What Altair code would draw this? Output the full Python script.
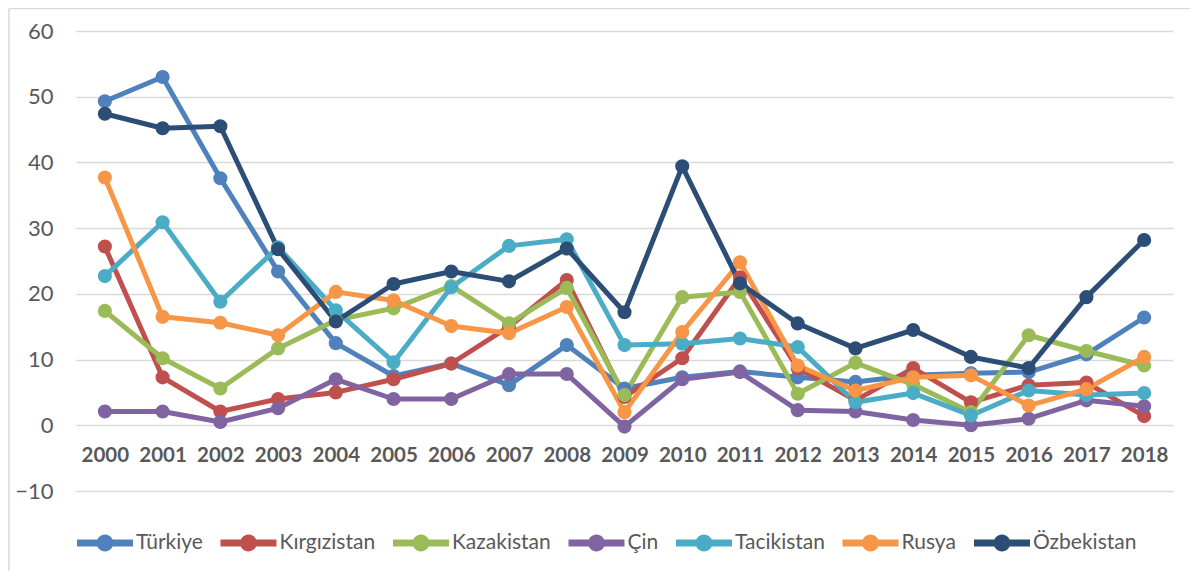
import altair as alt
import pandas as pd

years = [str(y) for y in range(2000, 2019)]
series_names = ["Türkiye", "Kırgızistan", "Kazakistan", "Çin", "Tacikistan", "Rusya", "Özbekistan"]
colors = ["#4F81BD", "#C0504D", "#9BBB59", "#8064A2", "#4BACC6", "#F79646", "#2C4D75"]

turkiye = [49.3, 53.0, 37.6, 23.4, 12.5, 7.5, 9.4, 6.1, 12.2, 5.6, 7.3, 8.2, 7.3, 6.6, 7.6, 7.9, 8.1, 10.8, 16.4]
kirgizistan = [27.2, 7.3, 2.1, 4.0, 5.0, 7.0, 9.4, 15.0, 22.1, 4.3, 10.2, 22.5, 8.7, 3.8, 8.7, 3.5, 6.1, 6.5, 1.4]
kazakistan = [17.4, 10.2, 5.6, 11.7, 16.0, 17.8, 21.2, 15.5, 20.9, 4.6, 19.5, 20.3, 4.8, 9.5, 6.2, 2.0, 13.7, 11.3, 9.1]
cin = [2.1, 2.1, 0.5, 2.6, 7.0, 4.0, 4.0, 7.8, 7.8, -0.2, 7.0, 8.1, 2.3, 2.1, 0.8, 0.0, 1.0, 3.8, 2.9]
tacikistan = [22.7, 30.9, 18.8, 27.1, 17.5, 9.6, 21.0, 27.3, 28.3, 12.2, 12.4, 13.2, 11.9, 3.5, 4.9, 1.5, 5.3, 4.6, 4.9]
rusya = [37.7, 16.5, 15.6, 13.7, 20.3, 19.0, 15.1, 14.0, 18.0, 2.0, 14.2, 24.8, 9.1, 5.3, 7.3, 7.6, 3.0, 5.5, 10.4]
ozbekistan = [47.4, 45.2, 45.5, 26.8, 15.8, 21.5, 23.4, 21.9, 26.9, 17.2, 39.4, 21.6, 15.5, 11.7, 14.5, 10.4, 8.7, 19.5, 28.2]

y_ticks = [-10, 0, 10, 20, 30, 40, 50, 60]

all_values = [turkiye, kirgizistan, kazakistan, cin, tacikistan, rusya, ozbekistan]
rows = []
for i, (name, vals) in enumerate(zip(series_names, all_values)):
    for y, v in zip(years, vals):
        rows.append({"Yıl": y, "Ülke": name, "Değer": v, "sira": i})
df = pd.DataFrame(rows)

W, H = 1097, 460
FONT = "Lato"
GRAY = "#595959"

legend_symbol = ("M-1,-0.125 L1,-0.125 L1,0.125 L-1,0.125 Z "
                 "M-0.3,0 A0.3,0.3 0 1,1 0.3,0 A0.3,0.3 0 1,1 -0.3,0 Z")

x_enc = alt.X("Yıl:O", sort=years,
              scale=alt.Scale(type="point", padding=0.5),
              axis=alt.Axis(title=None, domain=False, ticks=False, grid=False,
                            labelAngle=0, labelFont=FONT, labelFontSize=20.5,
                            labelFontWeight="bold", labelColor=GRAY,
                            labelPadding=20, offset=-66))
y_enc = alt.Y("Değer:Q",
              scale=alt.Scale(domain=[-10, 60], nice=False, zero=False),
              axis=alt.Axis(title=None, values=y_ticks, domain=False, ticks=False,
                            grid=True, gridColor="#D9D9D9", gridWidth=1.5,
                            labelFont=FONT, labelFontSize=22, labelColor=GRAY,
                            labelPadding=23))
color_scale = alt.Scale(domain=series_names, range=colors)
color_line = alt.Color("Ülke:N", sort=series_names, scale=color_scale, legend=None)
color_point = alt.Color("Ülke:N", sort=series_names, scale=color_scale,
                        legend=alt.Legend(title=None, orient="none", direction="horizontal",
                                          legendX=1, legendY=484, columns=7,
                                          symbolType=legend_symbol, symbolSize=3136,
                                          symbolStrokeWidth=0, symbolOpacity=1,
                                          labelFont=FONT, labelFontSize=21, labelColor=GRAY,
                                          labelOffset=3, columnPadding=17.5, padding=0))

lines = alt.Chart(df).mark_line(strokeWidth=5, strokeJoin="round").encode(
    x=x_enc, y=y_enc, color=color_line, order=alt.Order("sira:Q"))
points = alt.Chart(df).mark_point(filled=True, size=200, opacity=1).encode(
    x=x_enc, y=y_enc, color=color_point)

border = alt.Chart(pd.DataFrame({"k": [0]})).mark_rule(color="#D9D9D9", strokeWidth=1.5)
left_border = border.encode(x=alt.value(-67), y=alt.value(-22.5), y2=alt.value(H + 80))
top_border = border.encode(x=alt.value(-67), x2=alt.value(W + 17), y=alt.value(-22.5))

chart = alt.layer(left_border, top_border, lines, points).resolve_legend(
    color="independent"
).properties(
    width=W, height=H,
    autosize=alt.AutoSizeParams(type="none"),
    padding={"left": 68, "top": 23, "right": 18, "bottom": 81},
    background="white",
).configure_view(stroke=None)

chart.save("out.html", embed_options={"renderer": "svg", "actions": False})
